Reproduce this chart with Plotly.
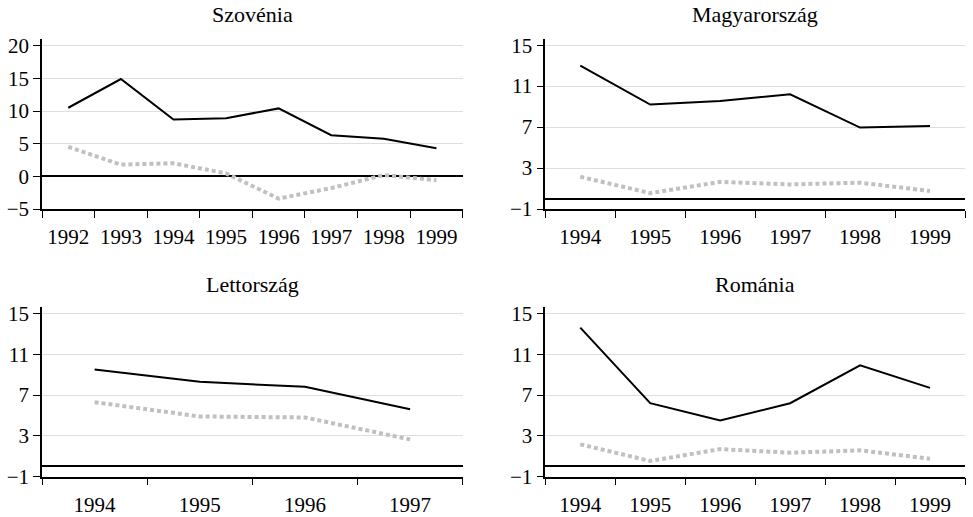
import plotly.graph_objects as go

# ---- data ----
years_szo = ["1992", "1993", "1994", "1995", "1996", "1997", "1998", "1999"]
szo_black = [10.5, 14.9, 8.7, 8.9, 10.4, 6.3, 5.75, 4.3]
szo_grey = [4.5, 1.8, 2.0, 0.45, -3.4, -1.8, 0.2, -0.6]

years_mag = ["1994", "1995", "1996", "1997", "1998", "1999"]
mag_black = [13.0, 9.2, 9.55, 10.2, 6.95, 7.1]
mag_grey = [2.15, 0.55, 1.65, 1.4, 1.57, 0.76]

years_let = ["1994", "1995", "1996", "1997"]
let_black = [9.5, 8.3, 7.8, 5.6]
let_grey = [6.3, 4.9, 4.8, 2.65]

years_rom = ["1994", "1995", "1996", "1997", "1998", "1999"]
rom_black = [13.6, 6.2, 4.5, 6.2, 9.9, 7.7]
rom_grey = [2.17, 0.54, 1.7, 1.35, 1.58, 0.76]

titles = ["Szovénia", "Magyarország", "Lettország", "Románia"]
yticks_szo = [-5, 0, 5, 10, 15, 20]
yticks_other = [-1, 3, 7, 11, 15]

W, H = 973, 517
FONT = "Liberation Serif"

panels = [
    (years_szo, szo_black, szo_grey, yticks_szo, [-5, 21.1], (42, 462.7), (38.5, 209)),
    (years_mag, mag_black, mag_grey, yticks_other, [-1, 15.65], (545.3, 965), (38.5, 209)),
    (years_let, let_black, let_grey, yticks_other, [-1, 15.65], (42, 462.7), (306.7, 476.7)),
    (years_rom, rom_black, rom_grey, yticks_other, [-1, 15.65], (545.3, 965), (306.7, 476.7)),
]

fig = go.Figure()
layout = {}
annotations = []
for i, (cats, blk, gry, yt, yr, (x0, x1), (ytop, ybot)) in enumerate(panels):
    n = i + 1
    xa = "x" if n == 1 else f"x{n}"
    ya = "y" if n == 1 else f"y{n}"
    fig.add_trace(go.Scatter(x=cats, y=gry, mode="lines", xaxis=xa, yaxis=ya,
                             line=dict(color="#c0c0c0", width=4, dash="4px,3px"),
                             showlegend=False, hoverinfo="skip"))
    fig.add_trace(go.Scatter(x=cats, y=blk, mode="lines", xaxis=xa, yaxis=ya,
                             line=dict(color="black", width=2),
                             showlegend=False, hoverinfo="skip"))
    xkey = "xaxis" if n == 1 else f"xaxis{n}"
    ykey = "yaxis" if n == 1 else f"yaxis{n}"
    layout[xkey] = dict(
        domain=[x0 / W, x1 / W], anchor=ya, type="category",
        range=[-0.5, len(cats) - 0.5], tickson="boundaries",
        ticks="outside", ticklen=7, tickwidth=1.3, tickcolor="black",
        showline=True, linecolor="black", linewidth=1.5,
        showgrid=False, zeroline=False, ticklabelstandoff=8, automargin=False,
        tickfont=dict(family=FONT, size=21, color="black"),
    )
    layout[ykey] = dict(
        domain=[1 - ybot / H, 1 - ytop / H], anchor=xa, range=yr,
        tickmode="array", tickvals=yt,
        ticktext=[("\u2212" + str(-v)) if v < 0 else str(v) for v in yt],
        ticks="outside", ticklen=7, tickwidth=1.3, tickcolor="black",
        showline=True, linecolor="black", linewidth=1.5,
        showgrid=True, gridcolor="#dedede", gridwidth=1, automargin=False,
        zeroline=True, zerolinecolor="black", zerolinewidth=1.5,
        tickfont=dict(family=FONT, size=21, color="black"),
    )
    ty = 15 if n <= 2 else 284.5
    annotations.append(dict(
        text=titles[i], xref="paper", yref="paper",
        x=((x0 + x1) / 2) / W, y=1 - ty / H, xanchor="center", yanchor="middle",
        showarrow=False, font=dict(family=FONT, size=22, color="black"),
    ))

fig.update_layout(
    template="none",
    width=W, height=H, margin=dict(l=0, r=0, t=0, b=0, pad=0),
    paper_bgcolor="white", plot_bgcolor="white",
    annotations=annotations, **layout,
)
fig.write_html(
    "out.html",
    config={"displayModeBar": False},
    post_script="document.body.style.margin='0';document.body.style.padding='0';",
)
